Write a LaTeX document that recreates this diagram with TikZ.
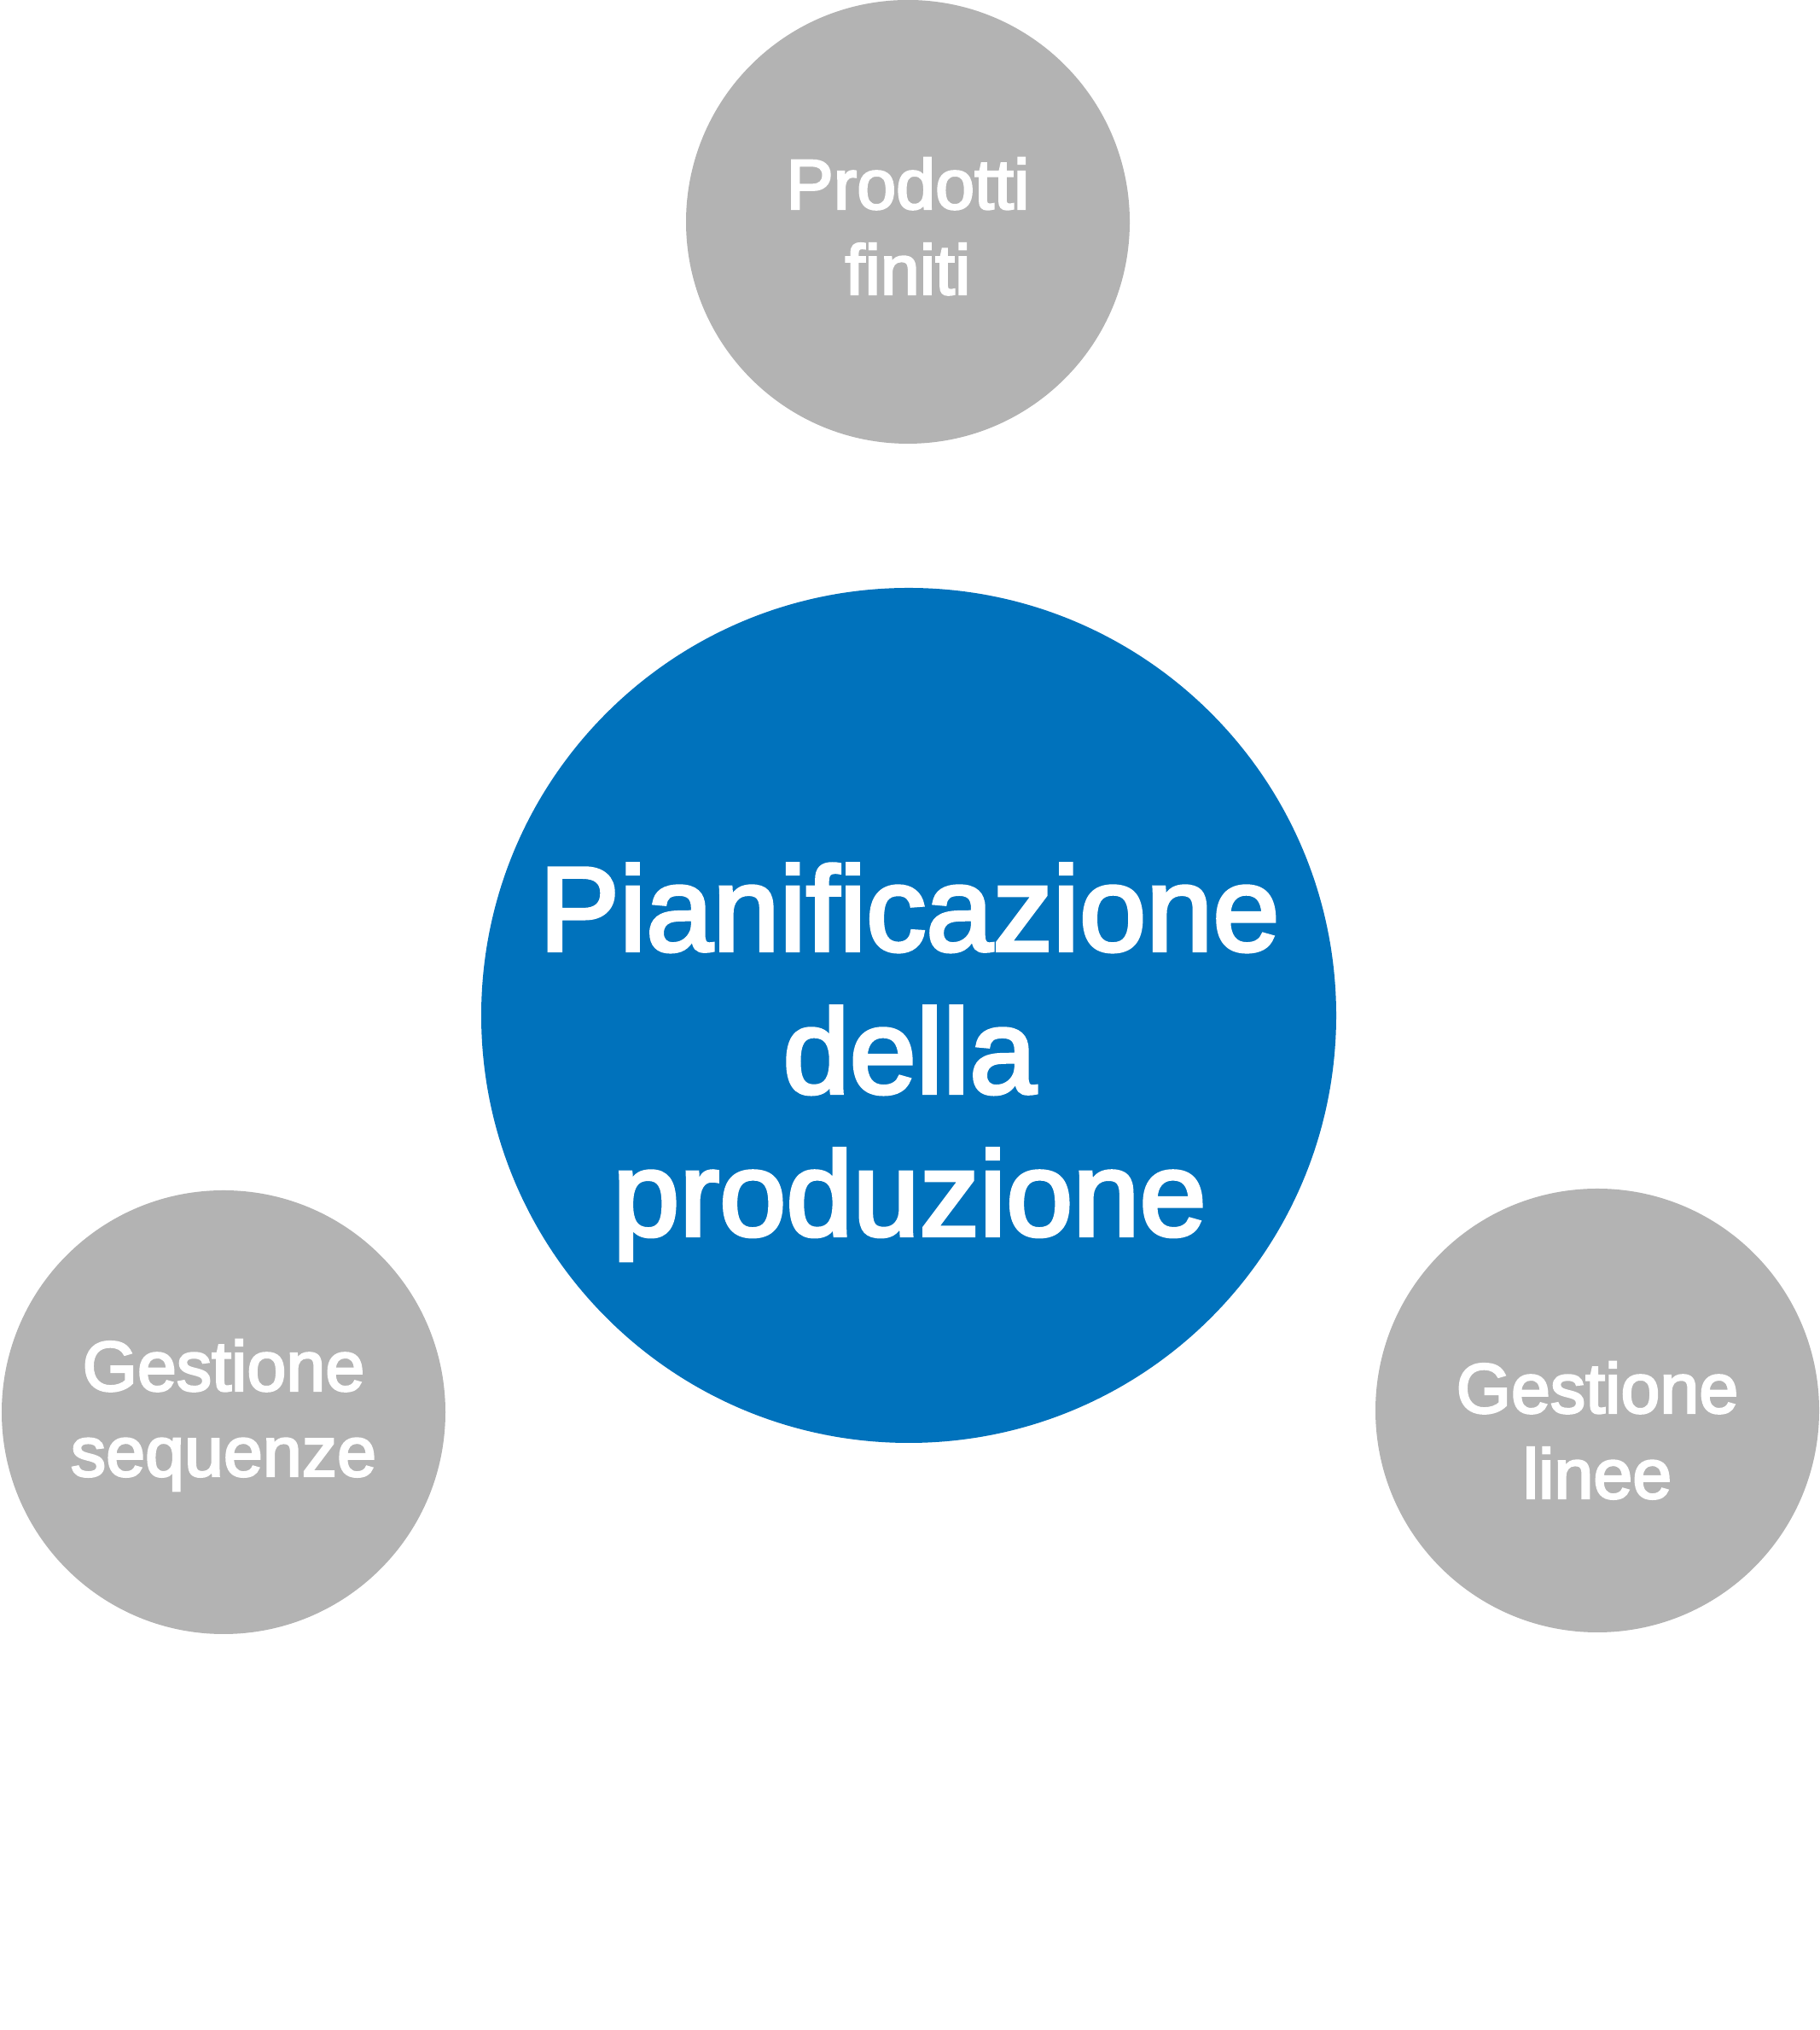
\documentclass[tikz,border=0pt]{standalone}
\definecolor{PlanBlue}{RGB}{0,114,188}
\definecolor{SoftGrey}{RGB}{179,179,179}
\usepackage{fontspec}
\setmainfont{Liberation Sans}
\newfontfamily\mediumfont{Liberation Sans}[FakeBold=3]
\usepackage{tikz}
\usetikzlibrary{positioning,calc}

\begin{document}
\begin{tikzpicture}[
      every node/.style={align=center, text=white},
      core/.style={circle, fill=PlanBlue, minimum size=10.02cm, inner sep=0pt},
      area/.style={circle, fill=SoftGrey, minimum size=5.2cm, inner sep=0pt},
      maintext/.style={anchor=base, font=\mediumfont\fontsize{40}{47.5}\selectfont},
      areatext/.style={anchor=base, font=\mediumfont\fontsize{23.5}{28.5}\selectfont}
  ]
    \useasboundingbox (0,0) rectangle (21.32,23.79);
    \node[core] (plan) at (10.65,11.89) {};
    \node[area] (finiti) at (10.64,21.19) {};
    \node[area] (sequenze) at (2.62,7.24) {};
    \node[area] (linee) at (18.72,7.26) {};
    \node[maintext] (plantext) at ($(plan)+(0.01,-2.58)$) {Pianificazione\\della\\produzione};
    \node[areatext] (finititext) at ($(finiti)+(0,-0.85)$) {Prodotti\\finiti};
    \node[areatext] (sequenzetext) at ($(sequenze)+(0,-0.75)$) {Gestione\\sequenze};
    \node[areatext] (lineetext) at ($(linee)+(0,-1.03)$) {Gestione\\linee};
  \end{tikzpicture}
\end{document}
